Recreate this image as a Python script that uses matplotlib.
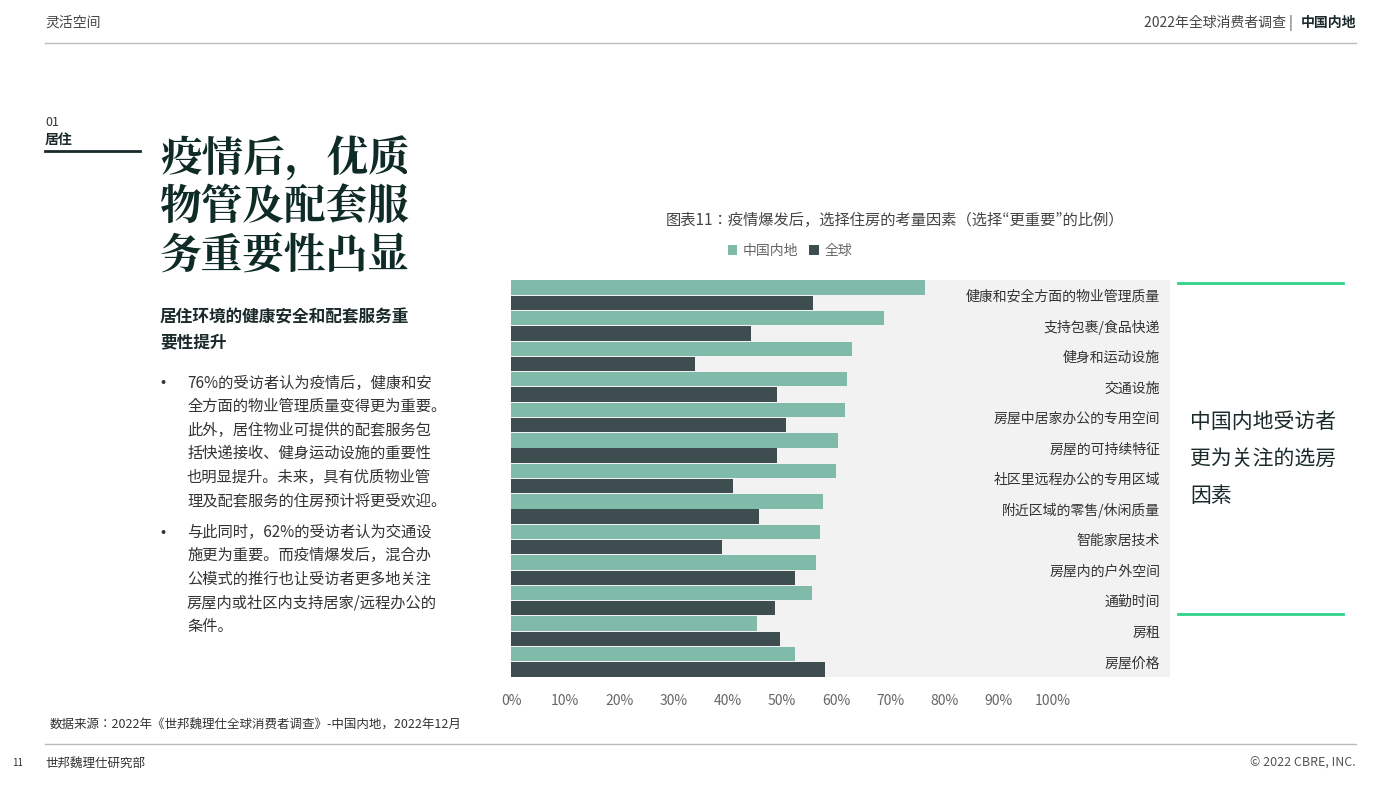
import matplotlib.pyplot as plt
import numpy as np

plt.rcParams['font.family'] = ['Noto Sans CJK JP', 'DejaVu Sans']

categories = ['健康和安全方面的物业管理质量', '支持包裹/食品快递', '健身和运动设施', '交通设施',
              '房屋中居家办公的专用空间', '房屋的可持续特征', '社区里远程办公的专用区域',
              '附近区域的零售/休闲质量', '智能家居技术', '房屋内的户外空间', '通勤时间', '房租', '房屋价格']
china = [76.4, 68.8, 63.0, 62.0, 61.6, 60.3, 60.0, 57.6, 57.0, 56.3, 55.5, 45.4, 52.4]
world = [55.7, 44.3, 34.0, 49.0, 50.7, 49.0, 41.0, 45.8, 39.0, 52.4, 48.7, 49.6, 58.0]
xticks = [0, 10, 20, 30, 40, 50, 60, 70, 80, 90, 100]

W, H = 1400, 788
fig = plt.figure(figsize=(14, 7.88), dpi=100)
C_CN = '#80bba9'
C_W = '#3e4d4f'
GREY = '#666666'


def fx(x): return x / W
def fy(y): return 1 - y / H


def txt(x, y, s, **kw):
    fig.text(fx(x), fy(y), s, **kw)


def hline(x0, x1, y, color, lw):
    fig.add_artist(plt.Line2D([fx(x0), fx(x1)], [fy(y), fy(y)], color=color, lw=lw))


# header / footer
txt(45, 23, '灵活空间', fontsize=10, color='#444444', va='center')
txt(1296, 23, '2022年全球消费者调查 | ', fontsize=10, color='#444444', va='center', ha='right')
txt(1356, 23, '中国内地', fontsize=10, color='#1a2a2a', va='center', ha='right', fontweight='bold')
hline(45, 1356, 43, '#bbbbbb', 1)
hline(45, 1356, 744, '#bbbbbb', 1)
txt(12, 763, '11', fontsize=7, color='#333333', va='center')
txt(45, 763, '世邦魏理仕研究部', fontsize=9, color='#333333', va='center')
txt(1356, 763, '© 2022 CBRE, INC.', fontsize=9, color='#555555', va='center', ha='right')
txt(50, 725, '数据来源：2022年《世邦魏理仕全球消费者调查》-中国内地，2022年12月', fontsize=9, color='#333333', va='center')

# left column
txt(45, 123, '01', fontsize=9, color='#333333', va='center')
txt(45, 140, '居住', fontsize=10, color='#1a2a2a', va='center', fontweight='bold')
hline(45, 140, 151, '#1a2a2a', 2)
for i, line in enumerate(['疫情后，优质', '物管及配套服', '务重要性凸显']):
    txt(160, 160 + i * 48, line, fontsize=30, color='#0f2b26', va='center', fontweight='bold',
        family='Noto Serif CJK JP')
txt(160, 317, '居住环境的健康安全和配套服务重', fontsize=12, color='#1a2a2a', va='center', fontweight='bold')
txt(160, 342, '要性提升', fontsize=12, color='#1a2a2a', va='center', fontweight='bold')
b1 = ['76%的受访者认为疫情后，健康和安', '全方面的物业管理质量变得更为重要。', '此外，居住物业可提供的配套服务包',
      '括快递接收、健身运动设施的重要性', '也明显提升。未来，具有优质物业管', '理及配套服务的住房预计将更受欢迎。']
b2 = ['与此同时，62%的受访者认为交通设', '施更为重要。而疫情爆发后，混合办', '公模式的推行也让受访者更多地关注',
      '房屋内或社区内支持居家/远程办公的', '条件。']
for blk, y0 in ((b1, 383), (b2, 532)):
    txt(160, y0, '•', fontsize=11, color='#333333', va='center')
    for i, line in enumerate(blk):
        txt(187, y0 + i * 23.5, line, fontsize=11, color='#333333', va='center')

# right callout
hline(1178, 1343, 283, '#2fd48a', 2)
hline(1178, 1343, 614, '#2fd48a', 2)
for i, line in enumerate(['中国内地受访者', '更为关注的选房', '因素']):
    txt(1190, 422 + i * 37, line, fontsize=15, color='#1a2a2a', va='center')

# chart
txt(895, 220, '图表11：疫情爆发后，选择住房的考量因素（选择“更重要”的比例）', fontsize=11, color='#444444',
    va='center', ha='center')
ax = fig.add_axes([fx(511), fy(677), fx(1170 - 511), (677 - 280) / H])
ax.set_facecolor('#f2f2f2')
y = np.arange(len(categories))
h = 0.47
ax.barh(y - 0.25, china, height=h, color=C_CN, label='中国内地')
ax.barh(y + 0.25, world, height=h, color=C_W, label='全球')
ax.set_ylim(len(categories) - 0.5, -0.5)
ax.set_xlim(0, (1170 - 511) / 5.42)
ax.set_xticks(xticks)
ax.set_xticklabels([f'{t}%' for t in xticks], color=GREY, fontsize=10)
ax.tick_params(length=0, pad=12)
ax.set_yticks([])
for s in ax.spines.values():
    s.set_visible(False)
for i, c in enumerate(categories):
    ax.text(0.985, 1 - (i + 0.55) / len(categories), c, transform=ax.transAxes, ha='right', va='center',
            fontsize=10, color='#333333')
fig.legend(loc='center', bbox_to_anchor=(fx(790), fy(251)), ncol=2, frameon=False, fontsize=10,
           handlelength=0.7, handleheight=0.7, handletextpad=0.4, columnspacing=0.8, labelcolor=GREY)

fig.savefig('out.png', dpi=100, facecolor='white')
